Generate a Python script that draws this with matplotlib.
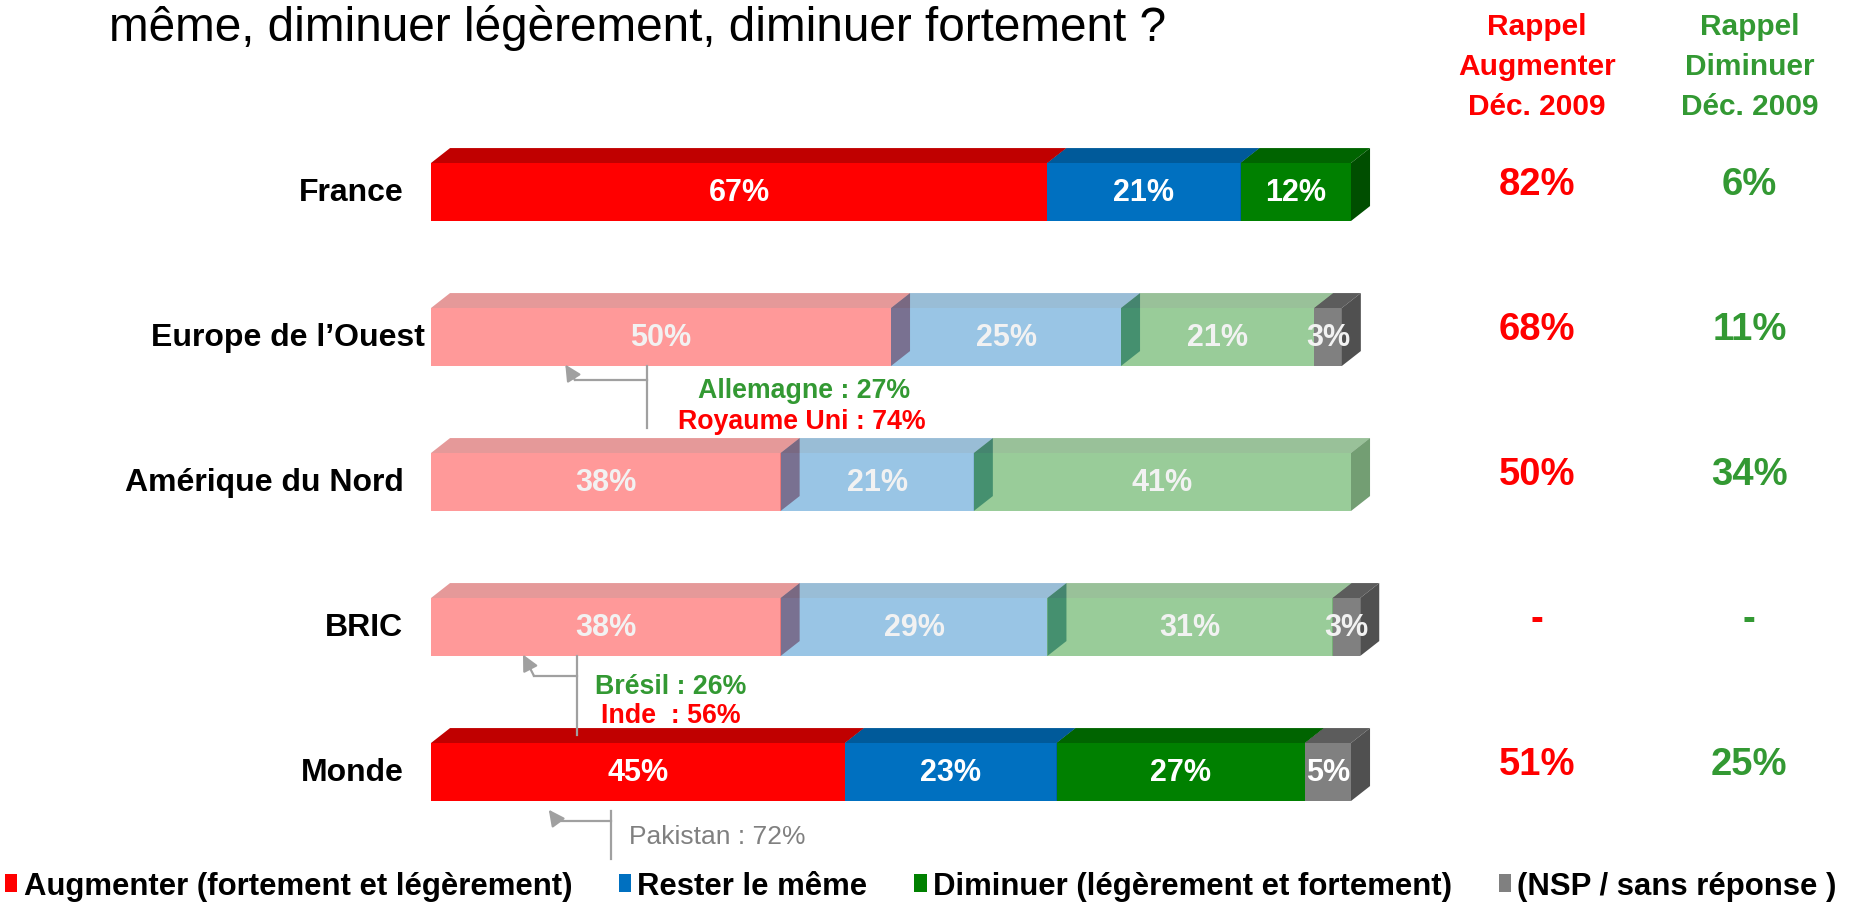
import matplotlib
matplotlib.use("Agg")
import matplotlib.pyplot as plt
from matplotlib.patches import Patch

plt.rcParams['font.family'] = ['Liberation Sans', 'DejaVu Sans']

# data
regions = ["France", "Europe de l\u2019Ouest", "Am\u00e9rique du Nord", "BRIC", "Monde"]
augmenter = [67, 50, 38, 38, 45]
rester = [21, 25, 21, 29, 23]
diminuer = [12, 21, 41, 31, 27]
nsp = [0, 3, 0, 3, 5]
faded = [False, True, True, True, False]
rappel_augmenter = ["82%", "68%", "50%", "-", "51%"]
rappel_diminuer = ["6%", "11%", "34%", "-", "25%"]
legend_labels = ["Augmenter (fortement et l\u00e9g\u00e8rement)", "Rester le m\u00eame",
                 "Diminuer (l\u00e9g\u00e8rement et fortement)", "(NSP / sans r\u00e9ponse )"]

# colours: front, top, side
shades = [("#FF0000", "#C00000", "#A00000"),
          ("#0070C0", "#005A9A", "#004C80"),
          ("#008000", "#006400", "#004E00"),
          ("#808080", "#5C5C5C", "#505050")]
RED = "#FF0000"
GREEN = "#339933"
GREY_LINE = "#A0A0A0"

fig = plt.figure(figsize=(18.68, 9.03), dpi=100)
ax = fig.add_axes([431 / 1868, 57.5 / 903, 920 / 1868, 725 / 903])
ax.set_xlim(0, 100)
ax.set_ylim(4.5, -0.5)
ax.axis("off")

h = 0.40   # bar height (rows)
dx = 2.07  # depth in x (percent units)
dy = 0.103 # depth in y (rows)
label_x = [-3.0, -0.65, -3.0, -3.0, -3.0]

series = [augmenter, rester, diminuer, nsp]
for i, region in enumerate(regions):
    left = 0
    top = i - h / 2
    bot = i + h / 2
    for k, vals in enumerate(series):
        w = vals[i]
        if w == 0:
            continue
        front, topc, side = shades[k]
        pale = faded[i] and k < 3
        a = 0.4 if pale else 1.0
        a_side = 0.55 if pale else 1.0
        r = left + w
        ax.fill([left, r, r, left], [bot, bot, top, top], color=front, alpha=a,
                lw=0, clip_on=False)
        ax.fill([left, r, r + dx, left + dx], [top, top, top - dy, top - dy],
                color=topc, alpha=a, lw=0, clip_on=False)
        ax.fill([r, r + dx, r + dx, r], [bot, bot - dy, top - dy, top],
                color=side, alpha=a_side, lw=0, clip_on=False)
        tc = "#F2F2F2" if faded[i] else "white"
        ax.text(left + w / 2, i, f"{w}%", ha="center", va="center", color=tc,
                fontsize=22, fontweight="bold")
        left = r
    ax.text(label_x[i], i, region, ha="right", va="center", fontsize=23,
            fontweight="bold", color="black")
    ax.text(120.2, i - 0.055, rappel_augmenter[i], ha="center", va="center",
            fontsize=27.5, fontweight="bold", color=RED, clip_on=False)
    ax.text(143.3, i - 0.055, rappel_diminuer[i], ha="center", va="center",
            fontsize=27.5, fontweight="bold", color=GREEN, clip_on=False)

# column headers
for j, line in enumerate(["Rappel", "Augmenter", "D\u00e9c. 2009"]):
    ax.text(120.2, -1.145 + j * 0.275, line, ha="center", va="center",
            fontsize=21.5, fontweight="bold", color=RED, clip_on=False)
for j, line in enumerate(["Rappel", "Diminuer", "D\u00e9c. 2009"]):
    ax.text(143.3, -1.145 + j * 0.275, line, ha="center", va="center",
            fontsize=21.5, fontweight="bold", color=GREEN, clip_on=False)

# question (second line only visible)
fig.text(109 / 1868, 1 - 28 / 903, "m\u00eame, diminuer l\u00e9g\u00e8rement, diminuer fortement ?",
         ha="left", va="center", fontsize=34.4, color="black")

# callouts: vertical x, y range, horizontal y, corner x, arrow head
callouts = [
    (23.5, 1.2, 1.628, 1.297, 15.65, 14.6, 1.19),
    (15.9, 3.2, 3.745, 3.338, 11.2, 10.0, 3.19),
    (19.6, 4.269, 4.6, 4.338, 13.7, 12.8, 4.26),
]
for xv, y0, y1, yh, xc, xh, yhd in callouts:
    ax.plot([xv, xv], [y0, y1], color=GREY_LINE, lw=1.6, clip_on=False)
    ax.plot([xv, xc], [yh, yh], color=GREY_LINE, lw=1.6, clip_on=False)
    ax.annotate("", xy=(xh, yhd), xytext=(xc, yh), annotation_clip=False,
                arrowprops=dict(arrowstyle="-|>", color=GREY_LINE, lw=1.6,
                                mutation_scale=24, shrinkA=0, shrinkB=0))

ax.text(40.5, 1.366, "Allemagne : 27%", ha="center", va="center", fontsize=19.3,
        fontweight="bold", color=GREEN)
ax.text(40.3, 1.579, "Royaume Uni : 74%", ha="center", va="center", fontsize=19.3,
        fontweight="bold", color=RED)
ax.text(26.1, 3.407, "Br\u00e9sil : 26%", ha="center", va="center", fontsize=19.3,
        fontweight="bold", color=GREEN)
ax.text(26.1, 3.607, "Inde  : 56%", ha="center", va="center", fontsize=19.3,
        fontweight="bold", color=RED)
ax.text(21.5, 4.441, "Pakistan : 72%", ha="left", va="center", fontsize=19,
        color="#808080", clip_on=False)

handles = [Patch(facecolor=s[0], edgecolor="none") for s in shades]
fig.legend(handles, legend_labels, ncol=4, loc="center left",
           bbox_to_anchor=(5 / 1868, 16 / 903), frameon=False, borderaxespad=0,
           borderpad=0, handlelength=0.4, handleheight=0.55, handletextpad=0.2,
           columnspacing=1.5, prop={"size": 22.4, "weight": "bold"})

fig.savefig("out.png", dpi=100)
